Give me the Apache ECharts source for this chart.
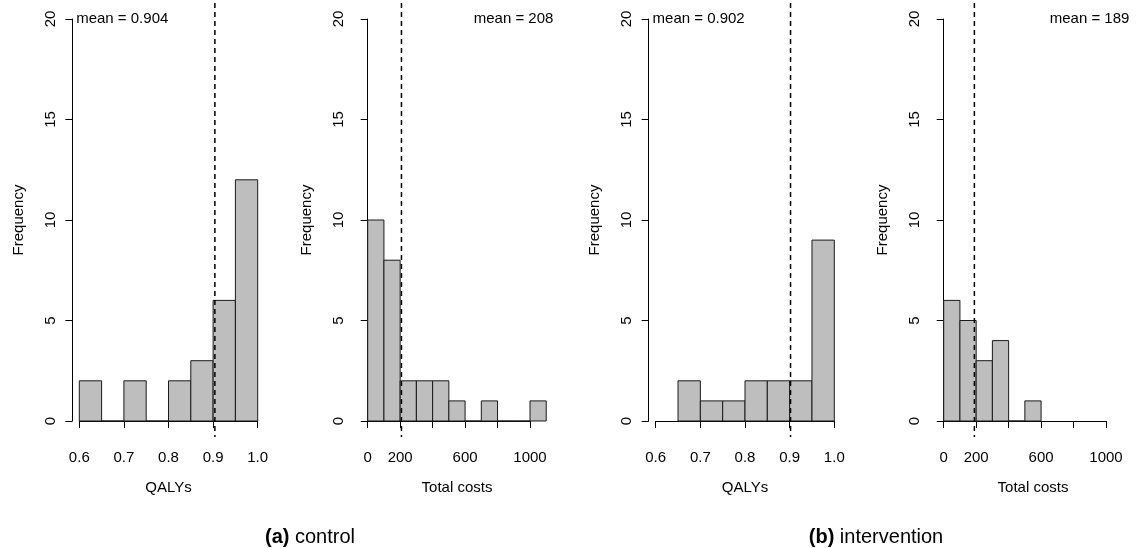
<!DOCTYPE html>
<html>
<head>
<meta charset="utf-8">
<script src="https://cdn.jsdelivr.net/npm/echarts@6/dist/echarts.min.js"></script>
<style>
html,body{margin:0;padding:0;background:#fff;}
#chart{width:1141px;height:548px;}
</style>
</head>
<body>
<div id="chart"></div>
<script>
// ---- data ----
const qalyBreaks = [0.6, 0.65, 0.7, 0.75, 0.8, 0.85, 0.9, 0.95, 1.0];
const ctrlQalyCounts = [2, 0, 2, 0, 2, 3, 6, 12];          // bins from 0.60
const intvQalyCounts = [2, 1, 1, 2, 2, 2, 9];              // bins from 0.65
const costBreaks = [0, 100, 200, 300, 400, 500, 600, 700, 800, 900, 1000, 1100];
const ctrlCostCounts = [10, 8, 2, 2, 2, 1, 0, 1, 0, 0, 1];
const intvCostCounts = [6, 5, 3, 4, 0, 1];
const means = [0.904, 208, 0.902, 189];
const qalyTicks = ['0.6', '0.7', '0.8', '0.9', '1.0'];
const costTicks = ['0', '200', '', '600', '', '1000'];
const freqTicks = ['0', '5', '10', '15', '20'];
const xTitles = ['QALYs', 'Total costs', 'QALYs', 'Total costs'];
const captions = [['(a)', 'control'], ['(b)', 'intervention']];

// ---- layout ----
const FONT = 'Liberation Sans, Arial, Helvetica, sans-serif';
const FS = 15;
const gridTop = 19, gridH = 402;
const panels = [
  {left: 79.3, width: 178.4, breaks: qalyBreaks, counts: ctrlQalyCounts, xlim: [0.6, 1.0], axis: [0.6, 1.0, 0.1], ticks: qalyTicks, meanSide: 'left', firstBin: 0},
  {left: 367.7, width: 162.3, breaks: costBreaks, counts: ctrlCostCounts, xlim: [0, 1100], axis: [0, 1000, 200], ticks: costTicks, meanSide: 'right', firstBin: 0},
  {left: 655.7, width: 178.6, breaks: qalyBreaks, counts: intvQalyCounts, xlim: [0.6, 1.0], axis: [0.6, 1.0, 0.1], ticks: qalyTicks, meanSide: 'left', firstBin: 1},
  {left: 943.7, width: 162.3, breaks: costBreaks, counts: intvCostCounts, xlim: [0, 1100], axis: [0, 1000, 200], ticks: costTicks, meanSide: 'right', firstBin: 0}
];

const grids = [], xAxes = [], yAxes = [], series = [];
panels.forEach((p, i) => {
  grids.push({left: p.left, top: gridTop, width: p.width, height: gridH});
  const xmin = p.axis[0], xint = p.axis[2];
  const axisCenter = (p.axis[0] + p.axis[1]) / 2, plotCenter = (p.xlim[0] + p.xlim[1]) / 2;
  const shiftPx = (plotCenter - axisCenter) / (p.axis[1] - p.axis[0]) * p.width;
  xAxes.push({
    type: 'value', gridIndex: i, min: p.axis[0], max: p.axis[1], interval: xint,
    offset: 16,
    axisLine: {show: true, lineStyle: {color: '#000', width: 1}},
    axisTick: {show: true, length: 7, lineStyle: {color: '#000', width: 1}},
    splitLine: {show: false},
    axisLabel: {
      color: '#000', fontSize: FS, fontFamily: FONT, margin: 13,
      showMinLabel: true, showMaxLabel: true, hideOverlap: false,
      formatter: v => { const k = Math.round((v - xmin) / xint); return p.ticks[k] !== undefined ? p.ticks[k] : ''; }
    },
    name: xTitles[i], nameLocation: 'middle', nameGap: 43,
    nameTextStyle: {color: '#000', fontSize: FS, fontFamily: FONT, padding: [0, 0, 0, 2 * shiftPx]}
  });
  yAxes.push({
    type: 'value', gridIndex: i, min: 0, max: 20, interval: 5,
    offset: 7,
    axisLine: {show: true, lineStyle: {color: '#000', width: 1}},
    axisTick: {show: true, length: 7, lineStyle: {color: '#000', width: 1}},
    splitLine: {show: false},
    axisLabel: {
      color: '#000', fontSize: FS, fontFamily: FONT, margin: 14, rotate: 90,
      formatter: v => freqTicks[Math.round(v / 5)]
    },
    name: 'Frequency', nameLocation: 'middle', nameGap: 46, nameRotate: 90,
    nameTextStyle: {color: '#000', fontSize: FS, fontFamily: FONT}
  });

  // histogram bins
  const binData = [];
  p.counts.forEach((c, k) => {
    const b = k + p.firstBin;
    binData.push([p.breaks[b], p.breaks[b + 1], c]);
  });
  series.push({
    type: 'custom', xAxisIndex: i, yAxisIndex: i, clip: false, silent: true,
    data: binData, encode: {x: [0, 1], y: 2},
    renderItem: (params, api) => {
      const p0 = api.coord([api.value(0), api.value(2)]);
      const p1 = api.coord([api.value(1), 0]);
      return {
        type: 'rect',
        shape: {x: p0[0], y: p0[1], width: p1[0] - p0[0], height: p1[1] - p0[1]},
        style: {fill: '#bebebe', stroke: '#1a1a1a', lineWidth: 1}
      };
    }
  });

  // mean line + label
  const span = p.xlim[1] - p.xlim[0];
  const plotL = p.xlim[0] - 0.04 * span, plotR = p.xlim[1] + 0.04 * span;
  series.push({
    type: 'custom', xAxisIndex: i, yAxisIndex: i, clip: false, silent: true,
    data: [[means[i], 20]], encode: {x: 0, y: 1},
    renderItem: (params, api) => {
      const m = api.value(0);
      const top = api.coord([m, 20.8]);
      const bot = api.coord([m, -0.8]);
      const ty = api.coord([m, 20])[1];
      const tx = p.meanSide === 'left' ? api.coord([plotL, 20])[0] + 4 : api.coord([plotR, 20])[0];
      return {
        type: 'group',
        children: [
          {type: 'line', shape: {x1: top[0], y1: top[1], x2: bot[0], y2: bot[1]},
           style: {stroke: '#000', lineWidth: 1.5, lineDash: [5, 4]}},
          {type: 'text', x: tx, y: ty,
           style: {text: 'mean = ' + m, fill: '#000', fontSize: FS, fontFamily: FONT,
                   align: p.meanSide, verticalAlign: 'middle'}}
        ]
      };
    }
  });
});

const chart = echarts.init(document.getElementById('chart'), null, {renderer: 'canvas'});
chart.setOption({
  animation: false,
  backgroundColor: '#fff',
  grid: grids,
  xAxis: xAxes,
  yAxis: yAxes,
  series: series,
  graphic: [
    {type: 'text', x: 310, y: 537, style: {text: '{b|' + captions[0][0] + '} ' + captions[0][1], fill: '#000', fontSize: 20, fontFamily: FONT, align: 'center', verticalAlign: 'middle', rich: {b: {fontWeight: 'bold', fontSize: 20, fontFamily: FONT}}}},
    {type: 'text', x: 876, y: 537, style: {text: '{b|' + captions[1][0] + '} ' + captions[1][1], fill: '#000', fontSize: 20, fontFamily: FONT, align: 'center', verticalAlign: 'middle', rich: {b: {fontWeight: 'bold', fontSize: 20, fontFamily: FONT}}}}
  ]
});
</script>
</body>
</html>
